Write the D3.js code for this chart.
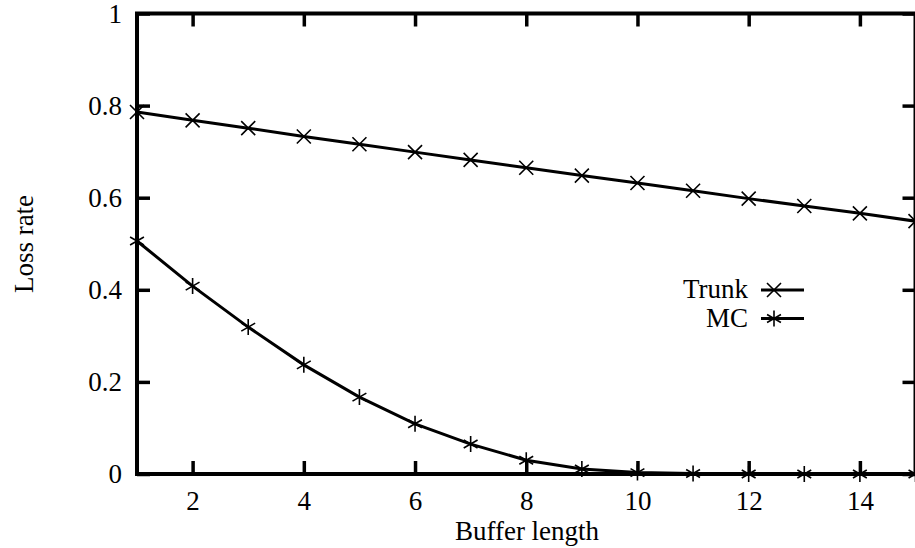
<!DOCTYPE html>
<html>
<head>
<meta charset="utf-8">
<title>Loss rate vs buffer length</title>
<script src="https://d3js.org/d3.v7.min.js"></script>
</head>
<body style="margin:0">
<script>
// data
const bufferLen = [1, 2, 3, 4, 5, 6, 7, 8, 9, 10, 11, 12, 13, 14, 15];
const trunkLoss = [0.786, 0.768, 0.751, 0.733, 0.716, 0.699, 0.682, 0.665, 0.648, 0.632, 0.615, 0.598, 0.582, 0.566, 0.549];
const mcLoss = [0.506, 0.408, 0.319, 0.237, 0.167, 0.109, 0.065, 0.030, 0.011, 0.003, 0.001, 0.0, 0.0, 0.0, 0.0];
const xTicks = [2, 4, 6, 8, 10, 12, 14];
const yTicks = [0, 0.2, 0.4, 0.6, 0.8, 1];
const yTickLabels = ["0", "0.2", "0.4", "0.6", "0.8", "1"];

const width = 915, height = 548;
const plotLeft = 137, plotRight = 915.5, plotTop = 13.5, plotBottom = 474;
const tickLen = 13;
const fontFam = "Liberation Serif";
const fontSize = 27;

const svg = d3.select("body").append("svg")
  .attr("width", width)
  .attr("height", height)
  .attr("font-family", fontFam)
  .attr("font-size", fontSize);

const x = d3.scaleLinear().domain([1, 15]).range([plotLeft, plotRight]);
const y = d3.scaleLinear().domain([0, 1]).range([plotBottom, plotTop]);

// markers
function crossPath(s) {
  return `M${-s},${-s}L${s},${s}M${-s},${s}L${s},${-s}`;
}
function starPath(s) {
  let p = "";
  for (let i = 0; i < 3; i++) {
    const a = Math.PI / 2 + i * Math.PI / 3;
    const dx = s * Math.cos(a), dy = s * Math.sin(a);
    p += `M${-dx},${-dy}L${dx},${dy}`;
  }
  return p;
}

const series = [
  { name: "Trunk", values: trunkLoss, marker: crossPath(7) },
  { name: "MC", values: mcLoss, marker: starPath(8) }
];

const line = d3.line()
  .x((d, i) => x(bufferLen[i]))
  .y(d => y(d));

// axes as ticks on all four sides, inward
const axisG = svg.append("g");
const xBottom = d3.axisBottom(x).tickValues(xTicks).tickSize(-tickLen).tickFormat(d3.format("d")).tickPadding(17);
const xTop = d3.axisTop(x).tickValues(xTicks).tickSize(-tickLen).tickFormat("");
const yLeft = d3.axisLeft(y).tickValues(yTicks).tickSize(-tickLen).tickFormat((d, i) => yTickLabels[i]).tickPadding(15);
const yRight = d3.axisRight(y).tickValues(yTicks).tickSize(-tickLen).tickFormat("");

axisG.append("g").attr("transform", `translate(0,${plotBottom})`).call(xBottom);
axisG.append("g").attr("transform", `translate(0,${plotTop})`).call(xTop);
axisG.append("g").attr("transform", `translate(${plotLeft},0)`).call(yLeft);
axisG.append("g").attr("transform", `translate(${plotRight},0)`).call(yRight);

// d3 puts sans-serif on each axis group; put the serif back
axisG.selectAll("g").attr("font-family", fontFam).attr("font-size", fontSize);
axisG.selectAll(".domain").remove();
axisG.selectAll(".tick line").attr("stroke", "#000").attr("stroke-width", 3.5);
axisG.selectAll(".tick text").attr("fill", "#000");

// frame
svg.append("rect")
  .attr("x", plotLeft).attr("y", plotTop)
  .attr("width", plotRight - plotLeft).attr("height", plotBottom - plotTop)
  .attr("fill", "none")
  .attr("stroke", "#000")
  .attr("stroke-width", 4);

// series
series.forEach(s => {
  svg.append("path")
    .datum(s.values)
    .attr("d", line)
    .attr("fill", "none")
    .attr("stroke", "#000")
    .attr("stroke-width", 3);

  svg.append("g").selectAll("path")
    .data(s.values)
    .enter().append("path")
    .attr("transform", (d, i) => `translate(${x(bufferLen[i])},${y(d)})`)
    .attr("d", s.marker)
    .attr("stroke", "#000")
    .attr("stroke-width", 1.6)
    .attr("fill", "none");
});

// legend
const legend = svg.append("g");
series.forEach((s, i) => {
  const ly = 290 + i * 28.5;
  legend.append("text")
    .attr("x", 748).attr("y", ly + 8)
    .attr("text-anchor", "end")
    .text(s.name);
  legend.append("line")
    .attr("x1", 761).attr("x2", 804)
    .attr("y1", ly).attr("y2", ly)
    .attr("stroke", "#000")
    .attr("stroke-width", 3);
  legend.append("path")
    .attr("transform", `translate(774,${ly})`)
    .attr("d", s.marker)
    .attr("stroke", "#000")
    .attr("stroke-width", 1.6)
    .attr("fill", "none");
});

// axis titles
svg.append("text")
  .attr("x", 527).attr("y", 540)
  .attr("text-anchor", "middle")
  .text("Buffer length");

svg.append("text")
  .attr("transform", "translate(33,244) rotate(-90)")
  .attr("text-anchor", "middle")
  .text("Loss rate");
</script>
</body>
</html>
